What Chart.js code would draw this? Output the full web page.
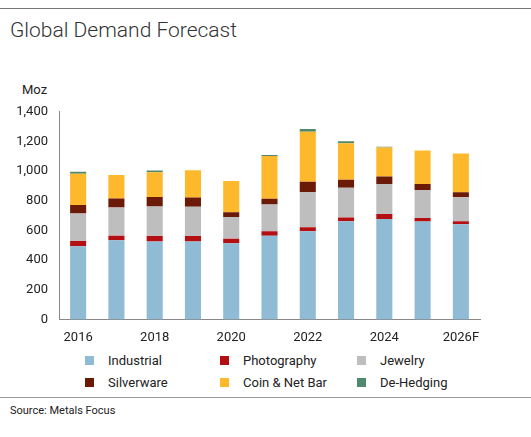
<!DOCTYPE html><html><head><meta charset="utf-8">
<script src="https://cdn.jsdelivr.net/npm/chart.js@4"></script>
<style>
body{margin:0;width:531px;height:437px;background:#fff;font-family:Roboto,"Open Sans",sans-serif;position:relative;overflow:hidden;color:#222}
.line{position:absolute;left:0;width:531px;height:1px;background:#777}
#title{position:absolute;left:10px;top:18px;font-size:21px;font-weight:300;color:#333}
#moz{position:absolute;left:22px;top:82px;font-size:13px;color:#222}
#wrap{position:absolute;left:0;top:101px;width:500px;height:248px}
#legend{position:absolute;left:85px;top:353px;font-size:13px;color:#222}
.it{position:absolute;white-space:nowrap}
.it i{display:inline-block;width:9px;height:9px;margin-right:14px;vertical-align:0}
#src{position:absolute;left:10px;top:404px;font-size:11px;color:#222}
</style></head><body>
<div class="line" style="top:8px"></div>
<div id="title">Global Demand Forecast</div>
<div id="moz">Moz</div>
<div id="wrap"><canvas id="c"></canvas></div>
<div id="legend"></div>
<div class="line" style="top:397px;background:#999"></div>
<div id="src">Source: Metals Focus</div>
<script>
const categories=["2016","2017","2018","2019","2020","2021","2022","2023","2024","2025","2026F"];
const industrial=[493,533,526,526,513,564,595,662,677,660,642];
const photography=[35,31,36,36,31,31,27,26,34,24,20];
const jewelry=[187,191,200,198,147,180,235,200,202,189,162];
const silverware=[56,60,64,62,31,38,71,53,51,40,33];
const coinBar=[211,158,167,184,211,289,338,247,195,226,262];
const deHedging=[13,0,11,0,0,6,18,13,5,0,0];
const names=["Industrial","Photography","Jewelry","Silverware","Coin & Net Bar","De-Hedging"];
const colors=["#8fbcd4","#b40f12","#bebebe","#6b1a08","#fdb92b","#4f8a6e"];
const series=[industrial,photography,jewelry,silverware,coinBar,deHedging];
const pos=[[0,0],[135,0],[272,0],[0,22],[135,22],[272,22]];
const lg=document.getElementById('legend');
names.forEach((n,i)=>{const d=document.createElement('div');d.className='it';d.style.left=pos[i][0]+'px';d.style.top=pos[i][1]+'px';d.innerHTML='<i style="background:'+colors[i]+'"></i>'+n;lg.appendChild(d);});
new Chart(document.getElementById('c'),{type:'bar',
data:{labels:categories,datasets:series.map((s,i)=>({label:names[i],data:s,backgroundColor:colors[i],barPercentage:0.42,categoryPercentage:1}))},
options:{responsive:true,maintainAspectRatio:false,animation:false,
layout:{padding:{left:0,right:20,top:8,bottom:0}},
plugins:{legend:{display:false},tooltip:{enabled:false}},
scales:{
x:{stacked:true,grid:{display:false},border:{color:'#888'},ticks:{autoSkip:false,maxRotation:0,color:'#222',font:{size:13,family:'Roboto'},callback:(v,i)=>i%2===0?categories[i]:''}},
y:{stacked:true,min:0,max:1400,grid:{display:false},border:{color:'#888'},afterFit:a=>{a.width=59},ticks:{stepSize:200,color:'#222',font:{size:13,family:'Roboto'},callback:v=>v.toLocaleString('en-US')}}
}}});
</script></body></html>
